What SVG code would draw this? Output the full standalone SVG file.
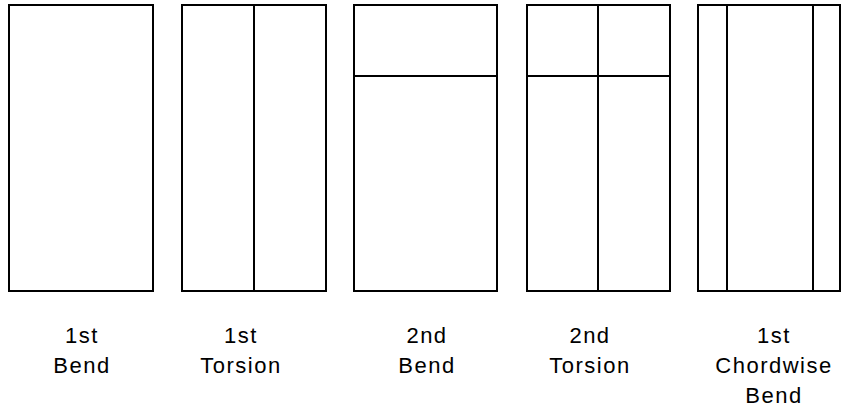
<svg xmlns="http://www.w3.org/2000/svg" width="842" height="411" viewBox="0 0 842 411">
<style>
.b{fill:none;stroke:#000;stroke-width:2}
.l{fill:none;stroke:#000;stroke-width:2}
text{font-family:"Liberation Sans",Arial,sans-serif;font-size:22px;letter-spacing:1.5px;text-anchor:middle;fill:#000}
</style>
<rect width="842" height="411" fill="#fff"/>
<g id="bend1">
<rect class="b" x="9" y="5" width="144" height="286"/>
<text x="82" y="343">1st</text>
<text x="82" y="373">Bend</text>
</g>
<g id="torsion1">
<rect class="b" x="182" y="5" width="144" height="286"/>
<line class="l" x1="254" y1="5" x2="254" y2="291"/>
<text x="241" y="343">1st</text>
<text x="241" y="373">Torsion</text>
</g>
<g id="bend2">
<rect class="b" x="354" y="5" width="143" height="286"/>
<line class="l" x1="354" y1="76" x2="497" y2="76"/>
<text x="427" y="343">2nd</text>
<text x="427" y="373">Bend</text>
</g>
<g id="torsion2">
<rect class="b" x="527" y="5" width="143" height="286"/>
<line class="l" x1="527" y1="76" x2="670" y2="76"/>
<line class="l" x1="598" y1="5" x2="598" y2="291"/>
<text x="590" y="343">2nd</text>
<text x="590" y="373">Torsion</text>
</g>
<g id="chordwise1">
<rect class="b" x="698" y="5" width="142" height="286"/>
<line class="l" x1="727" y1="5" x2="727" y2="291"/>
<line class="l" x1="813" y1="5" x2="813" y2="291"/>
<text x="774" y="343">1st</text>
<text x="774" y="373">Chordwise</text>
<text x="774" y="403">Bend</text>
</g>
<g id="connectors"/>
</svg>
